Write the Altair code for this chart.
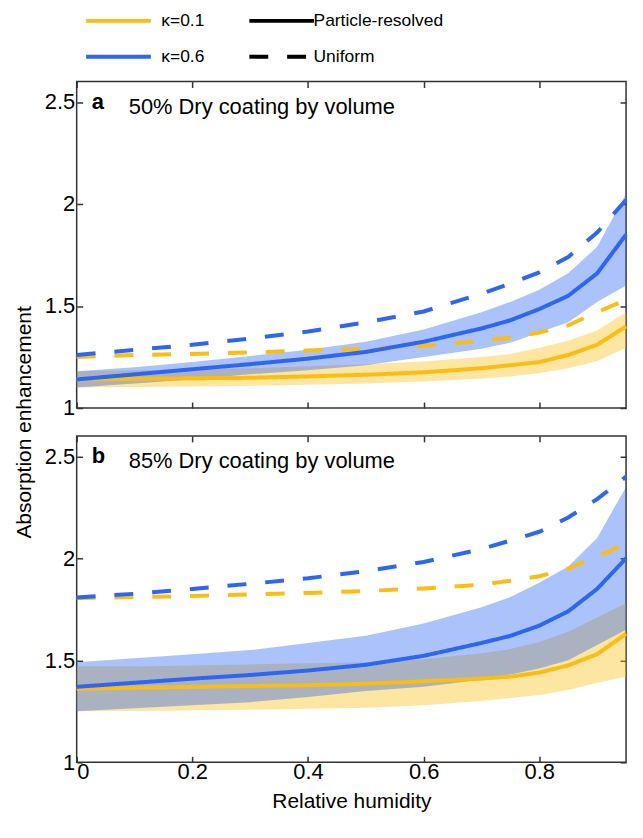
import altair as alt
import pandas as pd

# ---------------- data ----------------
RH = [0, 0.1, 0.2, 0.3, 0.4, 0.5, 0.6, 0.7, 0.75, 0.8, 0.85, 0.9, 0.95]

KAPPA = ["κ=0.1", "κ=0.6"]
MODELS = ["Particle-resolved", "Uniform"]
COLORS = ["#F9BD16", "#2C66F2"]

X_TICKS = [0, 0.2, 0.4, 0.6, 0.8]
Y_TICKS = [1, 1.5, 2, 2.5]

# panel a: 50% dry coating
a_k01_pr = [1.14, 1.143, 1.146, 1.148, 1.155, 1.163, 1.175, 1.195, 1.21, 1.225, 1.26, 1.31, 1.40]
a_k01_lo = [1.10, 1.103, 1.106, 1.109, 1.114, 1.12, 1.13, 1.145, 1.155, 1.172, 1.195, 1.23, 1.295]
a_k01_hi = [1.18, 1.185, 1.19, 1.195, 1.205, 1.215, 1.228, 1.25, 1.265, 1.295, 1.33, 1.38, 1.47]
a_k01_un = [1.25, 1.26, 1.265, 1.272, 1.282, 1.29, 1.305, 1.33, 1.345, 1.37, 1.405, 1.47, 1.53]
a_k06_pr = [1.14, 1.165, 1.19, 1.215, 1.242, 1.275, 1.325, 1.39, 1.43, 1.485, 1.55, 1.66, 1.85]
a_k06_lo = [1.10, 1.12, 1.14, 1.165, 1.185, 1.21, 1.25, 1.29, 1.32, 1.37, 1.42, 1.52, 1.60]
a_k06_hi = [1.18, 1.20, 1.225, 1.255, 1.285, 1.325, 1.385, 1.47, 1.52, 1.58, 1.66, 1.79, 2.05]
a_k06_un = [1.26, 1.285, 1.31, 1.34, 1.375, 1.42, 1.473, 1.56, 1.61, 1.665, 1.74, 1.86, 2.02]

# panel b: 85% dry coating
b_k01_pr = [1.36, 1.366, 1.37, 1.374, 1.378, 1.385, 1.397, 1.41, 1.42, 1.44, 1.475, 1.53, 1.63]
b_k01_lo = [1.25, 1.252, 1.255, 1.258, 1.262, 1.268, 1.28, 1.30, 1.315, 1.33, 1.355, 1.39, 1.42]
b_k01_hi = [1.47, 1.47, 1.475, 1.48, 1.485, 1.49, 1.505, 1.535, 1.555, 1.59, 1.64, 1.71, 1.78]
b_k01_un = [1.805, 1.81, 1.815, 1.823, 1.83, 1.84, 1.852, 1.87, 1.89, 1.912, 1.95, 2.01, 2.07]
b_k06_pr = [1.37, 1.39, 1.41, 1.428, 1.45, 1.478, 1.522, 1.585, 1.62, 1.67, 1.74, 1.85, 2.0]
b_k06_lo = [1.25, 1.265, 1.28, 1.295, 1.32, 1.35, 1.37, 1.405, 1.43, 1.46, 1.50, 1.575, 1.65]
b_k06_hi = [1.49, 1.51, 1.53, 1.55, 1.585, 1.62, 1.68, 1.76, 1.81, 1.88, 1.96, 2.1, 2.35]
b_k06_un = [1.808, 1.826, 1.85, 1.875, 1.902, 1.937, 1.982, 2.045, 2.087, 2.13, 2.2, 2.29, 2.40]

PANEL_LETTERS = ["a", "b"]
PANEL_CAPTIONS = ["50% Dry coating by volume", "85% Dry coating by volume"]
LETTER_POS = [0.026, 2.5]
CAPTION_POS = [0.090, 2.475]

# ---------------- helpers ----------------
W, H = 552, 328
GAP = 28
FONT = "Liberation Sans"
TICK = {"expr": "-6"}

xscale = alt.Scale(domain=[0, 0.95], nice=False, zero=False)
yscale = alt.Scale(domain=[1, 2.6], nice=False, zero=False)

color_scale = alt.Scale(domain=KAPPA, range=COLORS)
dash_scale = alt.Scale(domain=MODELS, range=[[1, 0], [19, 19]])

LEG_Y = -74
SYM = dict(symbolType="M-3,0H3", symbolSize=470, symbolStrokeWidth=4,
           labelFontSize=17.5, rowPadding=14, padding=0, labelColor="black",
           title=None, orient="none", legendY=LEG_Y, direction="vertical")
color_legend = alt.Legend(legendX=29, labelOffset=30, **SYM)
dash_legend = alt.Legend(legendX=193, labelOffset=19, symbolStrokeColor="black", **SYM)


def line_df(kappa, pr, un):
    rows = []
    for x, v in zip(RH, pr):
        rows.append({"rh": x, "val": v, "kappa": kappa, "model": MODELS[0]})
    for x, v in zip(RH, un):
        rows.append({"rh": x, "val": v, "kappa": kappa, "model": MODELS[1]})
    return pd.DataFrame(rows)


def band_df(lo, hi):
    return pd.DataFrame({"rh": RH, "lo": lo, "hi": hi})


def panel(idx, k01, k06, bottom):
    (k01_pr, k01_lo, k01_hi, k01_un) = k01
    (k06_pr, k06_lo, k06_hi, k06_un) = k06

    if bottom:
        ax_bottom = alt.Axis(values=X_TICKS, format="~g", tickSize=TICK, labelPadding=5,
                             title="Relative humidity", titlePadding=8)
        ax_left = alt.Axis(values=Y_TICKS, format="~g", tickSize=TICK, labelPadding=8,
                           title="Absorption enhancement", titleY=-GAP / 2, titlePadding=10)
    else:
        ax_bottom = alt.Axis(values=X_TICKS, tickSize=TICK, labels=False, title=None,
                             minExtent=0, maxExtent=0)
        ax_left = alt.Axis(values=Y_TICKS, format="~g", tickSize=TICK, labelPadding=8, title=None)
    ax_top = alt.Axis(values=X_TICKS, tickSize=TICK, labels=False, orient="top", title=None,
                      minExtent=0, maxExtent=0)
    ax_right = alt.Axis(values=Y_TICKS, tickSize=TICK, labels=False, orient="right", title=None,
                        minExtent=0, maxExtent=0)

    band1 = alt.Chart(band_df(k01_lo, k01_hi)).mark_area(color=COLORS[0], opacity=0.4).encode(
        x=alt.X("rh:Q", scale=xscale, axis=ax_bottom),
        y=alt.Y("lo:Q", scale=yscale, axis=ax_left),
        y2="hi:Q",
    )
    band2 = alt.Chart(band_df(k06_lo, k06_hi)).mark_area(color=COLORS[1], opacity=0.4).encode(
        x=alt.X("rh:Q", scale=xscale, axis=None),
        y=alt.Y("lo:Q", scale=yscale, axis=None),
        y2="hi:Q",
    )

    def lines(df, axes):
        return alt.Chart(df).mark_line(strokeWidth=4, strokeCap="butt").encode(
            x=alt.X("rh:Q", scale=xscale, axis=axes[0]),
            y=alt.Y("val:Q", scale=yscale, axis=axes[1]),
            color=alt.Color("kappa:N", scale=color_scale, legend=color_legend),
            strokeDash=alt.StrokeDash("model:N", scale=dash_scale, legend=dash_legend),
            detail="model:N",
        )

    line1 = lines(line_df(KAPPA[0], k01_pr, k01_un), (ax_top, ax_right))
    line2 = lines(line_df(KAPPA[1], k06_pr, k06_un), (None, None))

    letter = alt.Chart(pd.DataFrame({"rh": [LETTER_POS[0]], "val": [LETTER_POS[1]],
                                     "t": [PANEL_LETTERS[idx]]})).mark_text(
        align="left", baseline="middle", fontSize=22, fontWeight="bold", font=FONT, color="black"
    ).encode(x=alt.X("rh:Q", scale=xscale, axis=None), y=alt.Y("val:Q", scale=yscale, axis=None), text="t:N")

    caption = alt.Chart(pd.DataFrame({"rh": [CAPTION_POS[0]], "val": [CAPTION_POS[1]],
                                      "t": [PANEL_CAPTIONS[idx]]})).mark_text(
        align="left", baseline="middle", fontSize=22, font=FONT, color="black"
    ).encode(x=alt.X("rh:Q", scale=xscale, axis=None), y=alt.Y("val:Q", scale=yscale, axis=None), text="t:N")

    return alt.layer(band1, band2, line1, line2, letter, caption).resolve_axis(
        x="independent", y="independent"
    ).properties(width=W, height=H)


pa = panel(0, (a_k01_pr, a_k01_lo, a_k01_hi, a_k01_un), (a_k06_pr, a_k06_lo, a_k06_hi, a_k06_un), False)
pb = panel(1, (b_k01_pr, b_k01_lo, b_k01_hi, b_k01_un), (b_k06_pr, b_k06_lo, b_k06_hi, b_k06_un), True)

chart = alt.vconcat(pa, pb, spacing=GAP, bounds="flush").properties(
    padding={"left": 4, "top": -2, "right": 0, "bottom": 2}
).configure(font=FONT).configure_view(
    stroke="#333333", strokeWidth=1.5
).configure_axis(
    domain=False, grid=False, tickColor="#333333", tickWidth=1.5,
    labelFontSize=22, labelColor="black", labelFont=FONT,
    titleFontSize=21, titleFontWeight="normal", titleColor="black", titleFont=FONT,
)

chart.save("out.html", embed_options={"renderer": "svg", "actions": False})
